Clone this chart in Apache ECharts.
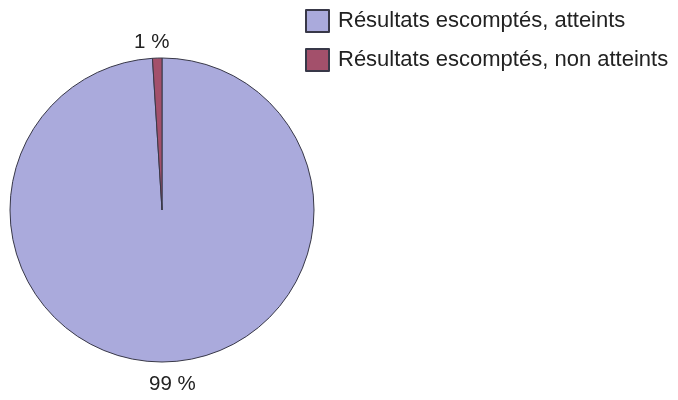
<!DOCTYPE html>
<html>
<head>
<meta charset="utf-8">
<script src="https://cdn.jsdelivr.net/npm/echarts@6/dist/echarts.min.js"></script>
<style>
  html, body { margin: 0; padding: 0; background: #fff; }
  #chart { width: 678px; height: 400px; }
</style>
</head>
<body>
<div id="chart"></div>
<script>
// Share of expected results, achieved vs. not achieved (percent)
const categories = ['Résultats escomptés, atteints', 'Résultats escomptés, non atteints'];
const values = [99, 1];
const colors = ['#aaaadc', '#a3506b'];
// distance of each value label from the rim
const labelOffsets = [22, 16];

const FONT = 'Liberation Sans, Arial, sans-serif';
const chart = echarts.init(document.getElementById('chart'), null, { renderer: 'canvas' });

chart.setOption({
  animation: false,
  backgroundColor: '#ffffff',
  textStyle: { fontFamily: FONT },
  legend: {
    orient: 'vertical',
    left: 300,
    top: 4,
    icon: 'rect',
    itemWidth: 23,
    itemHeight: 22,
    itemGap: 15,
    textStyle: { fontSize: 22, color: '#222', fontFamily: FONT, padding: [0, 0, 0, 4] },
    selectedMode: false
  },
  series: [{
    type: 'pie',
    center: [162, 210],
    radius: [0, 152],
    startAngle: 90,
    clockwise: true,
    data: categories.map((name, i) => ({
      name,
      value: values[i],
      itemStyle: { color: colors[i] },
      labelLine: { show: false, length: labelOffsets[i], length2: 0 }
    })),
    itemStyle: { borderColor: '#383848', borderWidth: 1 },
    label: {
      show: true,
      position: 'outside',
      formatter: p => p.value + ' %',
      fontSize: 20.5,
      color: '#222',
      fontFamily: FONT
    },
    labelLayout: { align: 'center' },
    emphasis: { disabled: true }
  }]
});
</script>
</body>
</html>
